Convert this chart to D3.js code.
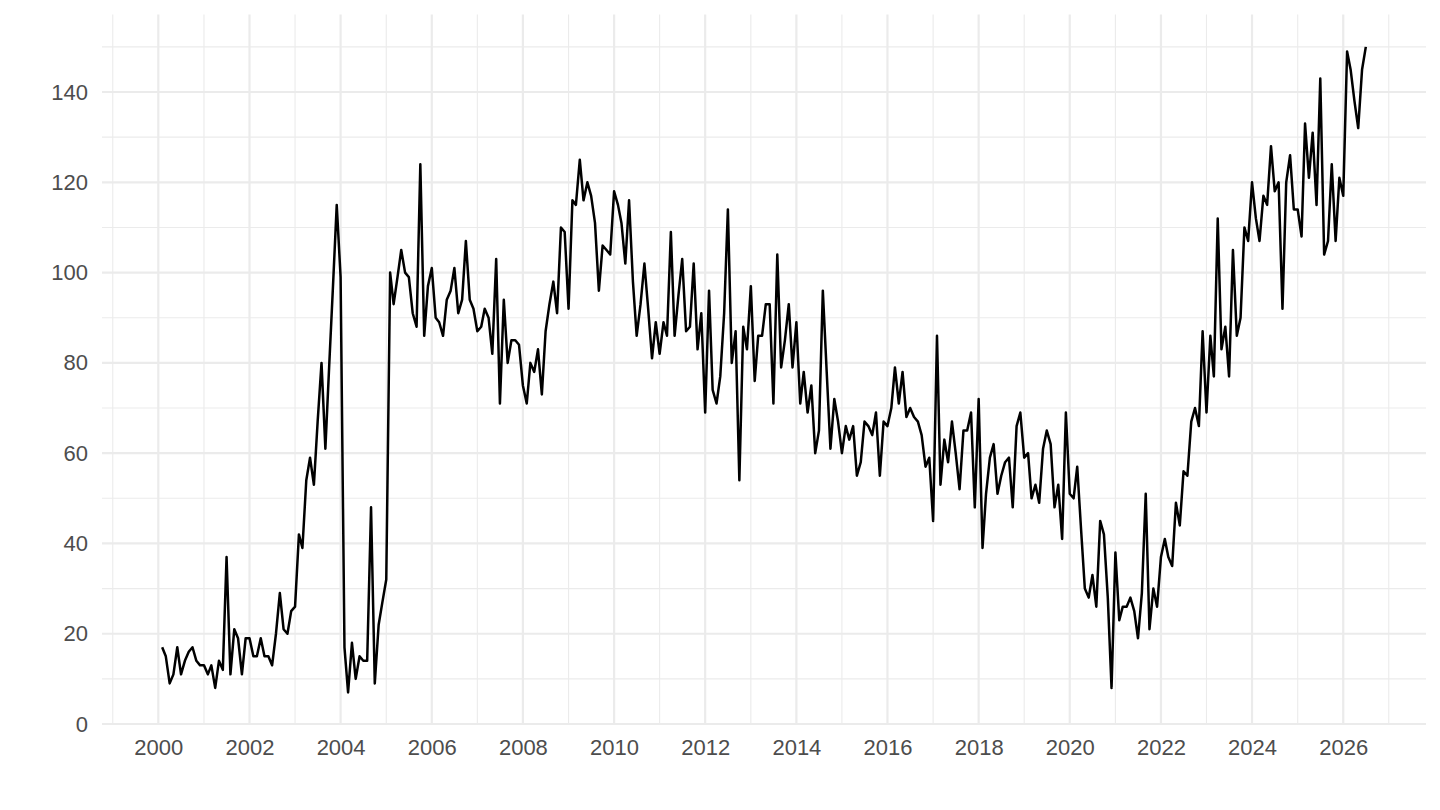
<!DOCTYPE html>
<html>
<head>
<meta charset="utf-8">
<script src="https://cdn.jsdelivr.net/npm/d3@7"></script>
<style>
  body { margin: 0; background: #fff; }
  svg { display: block; }
  .tick text { font-family: "Liberation Sans", Arial, sans-serif; font-size: 22px; fill: #4d4d4d; }
</style>
</head>
<body>
<svg id="chart" width="1440" height="810"></svg>
<script>
// monthly series, first value is Feb 2000
const startYear = 2000
const startMonth = 1 // 0-based, February
const values = [
    17, 15, 9, 11, 17, 11, 14, 16, 17, 14, 13,
    13, 11, 13, 8, 14, 12, 37, 11, 21, 19, 11, 19,
    19, 15, 15, 19, 15, 15, 13, 20, 29, 21, 20, 25,
    26, 42, 39, 54, 59, 53, 67, 80, 61, 79, 97, 115,
    99, 17, 7, 18, 10, 15, 14, 14, 48, 9, 22, 27,
    32, 100, 93, 99, 105, 100, 99, 91, 88, 124, 86, 97,
    101, 90, 89, 86, 94, 96, 101, 91, 94, 107, 94, 92,
    87, 88, 92, 90, 82, 103, 71, 94, 80, 85, 85, 84,
    75, 71, 80, 78, 83, 73, 87, 93, 98, 91, 110, 109,
    92, 116, 115, 125, 116, 120, 117, 111, 96, 106, 105, 104,
    118, 115, 111, 102, 116, 98, 86, 93, 102, 92, 81, 89,
    82, 89, 86, 109, 86, 95, 103, 87, 88, 102, 83, 91,
    69, 96, 74, 71, 77, 91, 114, 80, 87, 54, 88, 83,
    97, 76, 86, 86, 93, 93, 71, 104, 79, 85, 93, 79,
    89, 71, 78, 69, 75, 60, 65, 96, 78, 61, 72, 67,
    60, 66, 63, 66, 55, 58, 67, 66, 64, 69, 55, 67,
    66, 70, 79, 71, 78, 68, 70, 68, 67, 64, 57, 59,
    45, 86, 53, 63, 58, 67, 60, 52, 65, 65, 69, 48,
    72, 39, 51, 59, 62, 51, 55, 58, 59, 48, 66, 69,
    59, 60, 50, 53, 49, 61, 65, 62, 48, 53, 41, 69,
    51, 50, 57, 43, 30, 28, 33, 26, 45, 42, 28, 8,
    38, 23, 26, 26, 28, 25, 19, 29, 51, 21, 30, 26,
    37, 41, 37, 35, 49, 44, 56, 55, 67, 70, 66, 87,
    69, 86, 77, 112, 83, 88, 77, 105, 86, 90, 110, 107,
    120, 112, 107, 117, 115, 128, 118, 120, 92, 120, 126, 114,
    114, 108, 133, 121, 131, 115, 143, 104, 107, 124, 107, 121,
    117, 149, 145, 138, 132, 145, 150
]
const xTickYears = d3.range(2000, 2027, 2)
const xMinorYears = d3.range(1999, 2028, 2)
const yTicks = [0, 20, 40, 60, 80, 100, 120, 140]
const yMinor = [10, 30, 50, 70, 90, 110, 130, 150]

const data = values.map((v, i) => ({ date: new Date(startYear, startMonth + i, 1), value: v }))

const svg = d3.select("#chart")
const pLeft = 102, pRight = 1426, pTop = 14.6, pBottom = 724.7

// ggplot style 5% expansion
const ext = d3.extent(data, d => d.date)
const pad = (ext[1] - ext[0]) * 0.05
const x = d3.scaleTime()
    .domain([new Date(+ext[0] - pad), new Date(+ext[1] + pad)])
    .range([pLeft, pRight])

const yExt = d3.extent(values)
const yPad = (yExt[1] - yExt[0]) * 0.05
const y = d3.scaleLinear()
    .domain([yExt[0] - yPad, yExt[1] + yPad])
    .range([pBottom, pTop])

const grid = svg.append("g").attr("stroke", "#ebebeb").attr("fill", "none")

grid.selectAll(".xminor")
    .data(xMinorYears.map(yr => new Date(yr, 0, 1)).filter(d => x(d) >= pLeft && x(d) <= pRight))
    .join("line")
    .attr("x1", d => x(d)).attr("x2", d => x(d))
    .attr("y1", pTop).attr("y2", pBottom)
    .attr("stroke-width", 1.1)

grid.selectAll(".yminor")
    .data(yMinor)
    .join("line")
    .attr("x1", pLeft).attr("x2", pRight)
    .attr("y1", d => y(d)).attr("y2", d => y(d))
    .attr("stroke-width", 1.1)

grid.selectAll(".xmajor")
    .data(xTickYears.map(yr => new Date(yr, 0, 1)))
    .join("line")
    .attr("x1", d => x(d)).attr("x2", d => x(d))
    .attr("y1", pTop).attr("y2", pBottom)
    .attr("stroke-width", 2.2)

grid.selectAll(".ymajor")
    .data(yTicks)
    .join("line")
    .attr("x1", pLeft).attr("x2", pRight)
    .attr("y1", d => y(d)).attr("y2", d => y(d))
    .attr("stroke-width", 2.2)

const xAxis = d3.axisBottom(x)
    .tickValues(xTickYears.map(yr => new Date(yr, 0, 1)))
    .tickFormat(d3.timeFormat("%Y"))
    .tickSize(0)
    .tickPadding(15)

svg.append("g")
    .attr("transform", `translate(0,${pBottom})`)
    .call(xAxis)
    .call(g => g.select(".domain").remove())

const yAxis = d3.axisLeft(y)
    .tickValues(yTicks)
    .tickSize(0)
    .tickPadding(14)

svg.append("g")
    .attr("transform", `translate(${pLeft},0)`)
    .call(yAxis)
    .call(g => g.select(".domain").remove())

const line = d3.line()
    .x(d => x(d.date))
    .y(d => y(d.value))

svg.append("path")
    .datum(data)
    .attr("fill", "none")
    .attr("stroke", "#000")
    .attr("stroke-width", 2.5)
    .attr("stroke-linejoin", "round")
    .attr("d", line)
</script>
</body>
</html>
